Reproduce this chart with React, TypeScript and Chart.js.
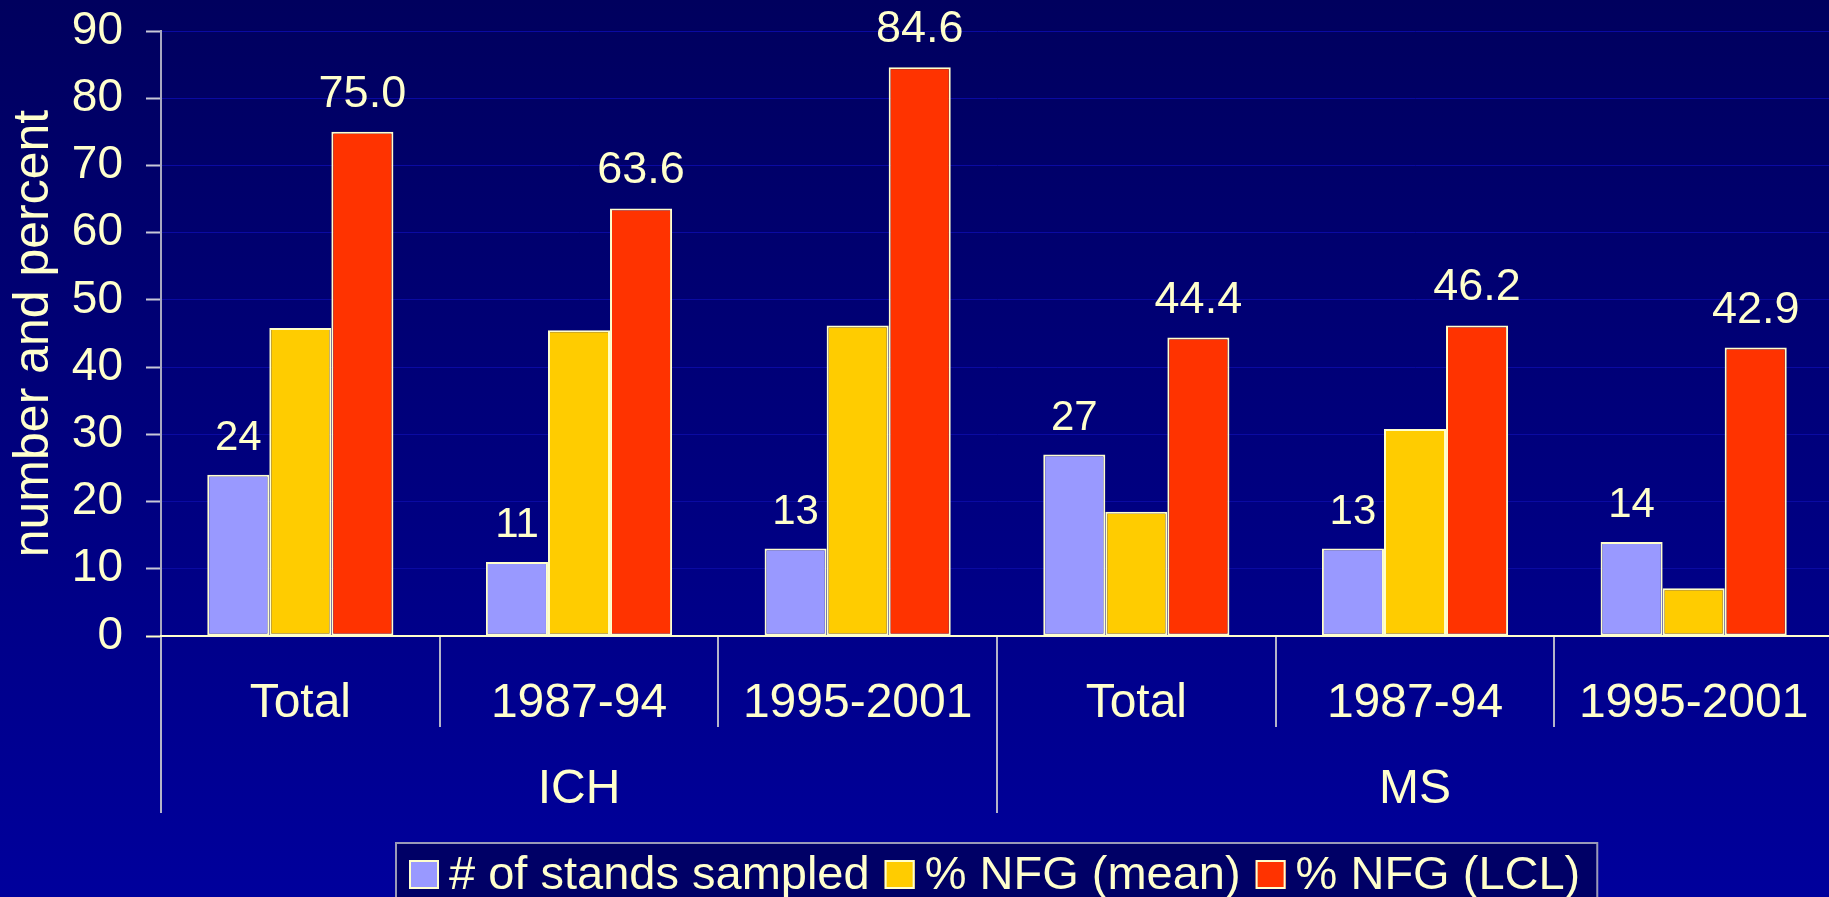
import React, { useEffect, useRef } from 'react';
import { Chart, registerables } from 'chart.js';

Chart.register(...registerables);

// ---- data ----
const categories = ['Total', '1987-94', '1995-2001', 'Total', '1987-94', '1995-2001'];
const groups = ['ICH', 'MS'];
const standsSampled = [24, 11, 13, 27, 13, 14];
const nfgMean = [45.8, 45.5, 46.2, 18.5, 30.8, 7.1];
const nfgLCL = [75.0, 63.6, 84.6, 44.4, 46.2, 42.9];
const seriesLabels = ['# of stands sampled', '% NFG (mean)', '% NFG (LCL)'];
const seriesColors = ['#9999FF', '#FFCC00', '#FF3300'];
const labelDecimals = [0, -1, 1]; // -1: no value label
const labelSizes = [42, 0, 45];
const yAxisTitle = 'number and percent';
const yMin = 0;
const yMax = 90;
const yStep = 10;

// ---- style ----
const FONT = "'Liberation Sans', Arial, Helvetica, sans-serif";
const TEXT = '#FFFFCC';
const GRID = '#0A0AA2';
const DIVIDER = '#B4B4C8';

Chart.defaults.font.family = FONT;

const bgPlugin = {
  id: 'bg',
  beforeDraw(chart: any) {
    const { ctx, width, height } = chart;
    const g = ctx.createLinearGradient(0, 0, 0, height);
    g.addColorStop(0, '#00005E');
    g.addColorStop(1, '#00009C');
    ctx.save();
    ctx.fillStyle = g;
    ctx.fillRect(0, 0, width, height);
    ctx.restore();
  },
};

const valueLabelPlugin = {
  id: 'valueLabels',
  afterDatasetsDraw(chart: any) {
    const ctx = chart.ctx;
    ctx.save();
    ctx.fillStyle = TEXT;
    ctx.textAlign = 'center';
    ctx.textBaseline = 'alphabetic';
    chart.data.datasets.forEach((ds: any, di: number) => {
      const dec = labelDecimals[di];
      if (dec < 0) return;
      const meta = chart.getDatasetMeta(di);
      ctx.font = `${labelSizes[di]}px ${FONT}`;
      meta.data.forEach((bar: any, i: number) => {
        const v = ds.data[i] as number;
        ctx.fillText(v.toFixed(dec), bar.x, bar.y - 25);
      });
    });
    ctx.restore();
  },
};

const boxLegendPlugin = {
  id: 'boxLegend',
  afterDraw(chart: any) {
    const { ctx, chartArea } = chart;
    const size = 47;
    ctx.save();
    ctx.font = `${size}px ${FONT}`;
    const sq = 30;
    const gapText = 10;
    const gapItem = 15;
    const padL = 13;
    const padR = 17;
    const items = chart.data.datasets.map((ds: any) => ({
      label: ds.label as string,
      color: ds.backgroundColor as string,
      w: ctx.measureText(ds.label).width,
    }));
    const content =
      items.reduce((s: number, it: any) => s + sq + gapText + it.w, 0) + gapItem * (items.length - 1);
    const boxW = content + padL + padR;
    const cx = (chartArea.left + chartArea.right) / 2;
    const left = Math.round(cx - boxW / 2);
    const top = Math.round(chart.scales.x2.bottom + 30);
    ctx.fillStyle = '#000066';
    ctx.fillRect(left, top, boxW, 70);
    ctx.strokeStyle = '#9A9AB8';
    ctx.lineWidth = 2;
    ctx.strokeRect(left, top, boxW, 70);
    let x = left + padL;
    ctx.textBaseline = 'alphabetic';
    ctx.textAlign = 'left';
    items.forEach((it: any) => {
      ctx.fillStyle = it.color;
      ctx.fillRect(x, top + 17, sq, 29);
      ctx.strokeStyle = TEXT;
      ctx.lineWidth = 2;
      ctx.strokeRect(x + 1, top + 18, sq - 2, 27);
      ctx.fillStyle = TEXT;
      ctx.fillText(it.label, x + sq + gapText, top + 46);
      x += sq + gapText + it.w + gapItem;
    });
    ctx.restore();
  },
};

export default function App() {
  const ref = useRef<HTMLCanvasElement | null>(null);

  useEffect(() => {
    if (!ref.current) return;
    const values = [standsSampled, nfgMean, nfgLCL];
    const chart = new Chart(ref.current, {
      type: 'bar',
      data: {
        labels: categories,
        datasets: values.map((d, i) => ({
          label: seriesLabels[i],
          data: d,
          backgroundColor: seriesColors[i],
          borderColor: TEXT,
          borderWidth: 2,
          borderSkipped: false,
          categoryPercentage: 0.668,
          barPercentage: 1.0,
        })),
      },
      options: {
        responsive: false,
        animation: false,
        devicePixelRatio: 1,
        layout: { padding: { top: 31, bottom: 84, left: 0, right: 1 } },
        plugins: {
          legend: { display: false },
          tooltip: { enabled: false },
        },
        scales: {
          y: {
            min: yMin,
            max: yMax,
            ticks: { stepSize: yStep, color: TEXT, font: { size: 46 }, padding: 23 },
            grid: {
              color: (c: any) => (c.tick && c.tick.value === 0 ? TEXT : GRID),
              tickColor: (c: any) => (c.tick && c.tick.value === 0 ? TEXT : '#C8C8D8'),
              tickLength: 15,
              lineWidth: 1,
              tickWidth: 2,
            },
            border: { color: '#A8A8C0', width: 2 },
            title: {
              display: true,
              text: yAxisTitle,
              color: TEXT,
              font: { size: 50 },
              padding: { top: 4, bottom: 0 },
            },
            afterFit: (s: any) => {
              s.width = 161;
              s.paddingTop = 0;
              s.paddingBottom = 0;
            },
          },
          x: {
            type: 'category',
            offset: true,
            grid: {
              offset: true,
              drawOnChartArea: false,
              tickLength: 91,
              color: DIVIDER,
              lineWidth: 2,
              tickWidth: 2,
            },
            border: { color: TEXT, width: 2 },
            ticks: { color: TEXT, font: { size: 48 }, padding: -52, maxRotation: 0, autoSkip: false },
            afterFit: (s: any) => {
              s.height = 91;
              s.paddingLeft = 0;
              s.paddingRight = 0;
            },
          },
          x2: {
            type: 'category',
            labels: groups,
            position: 'bottom',
            weight: 1,
            offset: true,
            grid: {
              offset: true,
              drawOnChartArea: false,
              tickLength: 86,
              color: DIVIDER,
              lineWidth: 2,
              tickWidth: 2,
            },
            border: { display: false },
            ticks: { color: TEXT, font: { size: 48 }, padding: -52, maxRotation: 0, autoSkip: false },
            afterFit: (s: any) => {
              s.height = 86;
              s.paddingLeft = 0;
              s.paddingRight = 0;
            },
          },
        } as any,
      },
      plugins: [bgPlugin, valueLabelPlugin, boxLegendPlugin],
    });
    return () => chart.destroy();
  }, []);

  return (
    <div
      style={{
        position: 'fixed',
        left: 0,
        top: 0,
        width: 1829,
        height: 897,
        overflow: 'hidden',
        background: '#000080',
      }}
    >
      <canvas ref={ref} width={1834} height={897} style={{ display: 'block' }} />
    </div>
  );
}
